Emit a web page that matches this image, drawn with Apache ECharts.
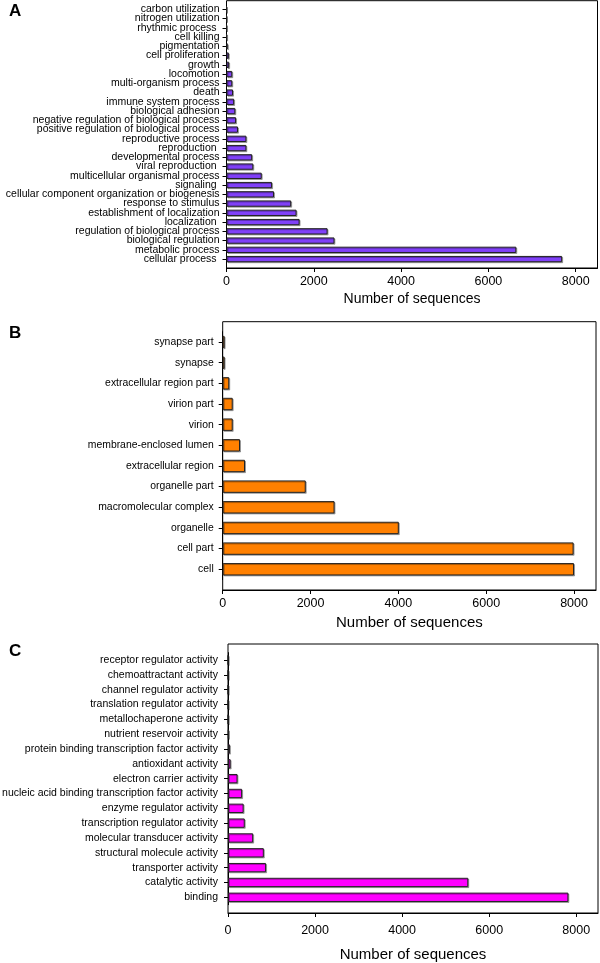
<!DOCTYPE html>
<html><head><meta charset="utf-8">
<script src="https://cdn.jsdelivr.net/npm/echarts@6/dist/echarts.min.js"></script>
<style>html,body{margin:0;padding:0;background:#fff}#c{width:600px;height:963px}</style>
</head><body><div id="c"></div>
<script>
// ---- Data (top to bottom as drawn) ----
const catsA = ["carbon utilization","nitrogen utilization","rhythmic process ","cell killing","pigmentation","cell proliferation","growth","locomotion","multi-organism process","death","immune system process","biological adhesion","negative regulation of biological process","positive regulation of biological process","reproductive process","reproduction ","developmental process","viral reproduction ","multicellular organismal process","signaling ","cellular component organization or biogenesis","response to stimulus","establishment of localization","localization ","regulation of biological process","biological regulation","metabolic process","cellular process "];
const valsA = [1,1,2,3,26,53,61,132,132,149,175,202,219,263,456,456,588,614,807,1044,1088,1482,1605,1675,2316,2474,6640,7690];

const catsB = ["synapse part","synapse","extracellular region part","virion part","virion","membrane-enclosed lumen","extracellular region","organelle part","macromolecular complex","organelle","cell part","cell"];
const valsB = [44,44,149,228,228,394,508,1891,2547,4010,7990,8000];

const catsC = ["receptor regulator activity","chemoattractant activity","channel regulator activity","translation regulator activity","metallochaperone activity","nutrient reservoir activity","protein binding transcription factor activity","antioxidant activity","electron carrier activity","nucleic acid binding transcription factor activity","enzyme regulator activity","transcription regulator activity","molecular transducer activity","structural molecule activity","transporter activity","catalytic activity","binding"];
const valsC = [1,1,1,2,3,15,44,61,219,324,359,385,578,823,875,5520,7820];

const xTicks = [0,2000,4000,6000,8000];
const xName = "Number of sequences";
const panelLetters = ["A","B","C"];

// ---- Layout ----
const FONT = "Liberation Sans, Arial, Helvetica, sans-serif";
const XMAX = 8500;
const panels = [
  {cats:catsA, vals:valsA, color:"#8040f8", left:226.5, width:371, top:0.7, height:267.3, itop:4.7, iheight:259, fs:10.5, lmargin:7, xmargin:7, nameGap:24.5, nameSize:14, gap:'32%'},
  {cats:catsB, vals:valsB, color:"#ff8000", left:222.7, width:373.3, top:321.7, height:268.3, itop:331.7, iheight:247.9, fs:10.4, lmargin:9, xmargin:7, nameGap:25, nameSize:15, gap:'40%'},
  {cats:catsC, vals:valsC, color:"#ff00ff", left:228, width:370, top:644, height:269, itop:652.6, iheight:252.1, fs:10.5, lmargin:10, xmargin:11, nameGap:34, nameSize:15, gap:'37%'}
];

const grid=[], xAxis=[], yAxis=[], series=[];
panels.forEach((p,i)=>{
  grid.push({left:p.left, width:p.width, top:p.top, height:p.height, show:true, borderColor:'#000', borderWidth:1, backgroundColor:'transparent', outerBoundsMode:'none', containLabel:false});
  grid.push({left:p.left, width:p.width, top:p.itop, height:p.iheight, outerBoundsMode:'none', containLabel:false});
  const go = 2*i, gi = 2*i+1;
  xAxis.push({gridIndex:go, type:'value', min:0, max:XMAX, interval:2000,
    axisLine:{show:true, lineStyle:{color:'#000', width:1}},
    axisTick:{show:true, length:4, lineStyle:{color:'#000'}, customValues:xTicks},
    axisLabel:{show:true, color:'#000', fontSize:12.5, fontFamily:FONT, margin:p.xmargin, customValues:xTicks, formatter:(v)=>String(v)},
    splitLine:{show:false},
    name:xName, nameLocation:'middle', nameGap:p.nameGap,
    nameTextStyle:{color:'#000', fontSize:p.nameSize, fontFamily:FONT}});
  yAxis.push({gridIndex:go, type:'value', show:false});
  xAxis.push({gridIndex:gi, type:'value', min:0, max:XMAX, show:false});
  yAxis.push({gridIndex:gi, type:'category', inverse:true, data:p.cats,
    axisLine:{show:true, lineStyle:{color:'#000'}},
    axisTick:{show:true, alignWithLabel:true, length:4, lineStyle:{color:'#000'}},
    axisLabel:{color:'#000', fontSize:p.fs, fontFamily:FONT, margin:p.lmargin, interval:0},
    splitLine:{show:false}});
  series.push({type:'bar', xAxisIndex:gi, yAxisIndex:gi, data:p.vals, barCategoryGap:p.gap,
    itemStyle:{color:p.color, borderColor:'#222', borderWidth:1, shadowColor:'rgba(0,0,0,0.3)', shadowOffsetX:1, shadowOffsetY:1, shadowBlur:0},
    emphasis:{disabled:true}, silent:true, animation:false});
});

const chart = echarts.init(document.getElementById('c'), null, {renderer:'canvas'});
chart.setOption({
  animation:false,
  grid, xAxis, yAxis, series,
  graphic:[
    {type:'text', left:9, top:3, style:{text:panelLetters[0], font:'bold 17px '+FONT, fill:'#000'}},
    {type:'text', left:9, top:325, style:{text:panelLetters[1], font:'bold 17px '+FONT, fill:'#000'}},
    {type:'text', left:9, top:643, style:{text:panelLetters[2], font:'bold 17px '+FONT, fill:'#000'}}
  ]
});
</script>
</body></html>
